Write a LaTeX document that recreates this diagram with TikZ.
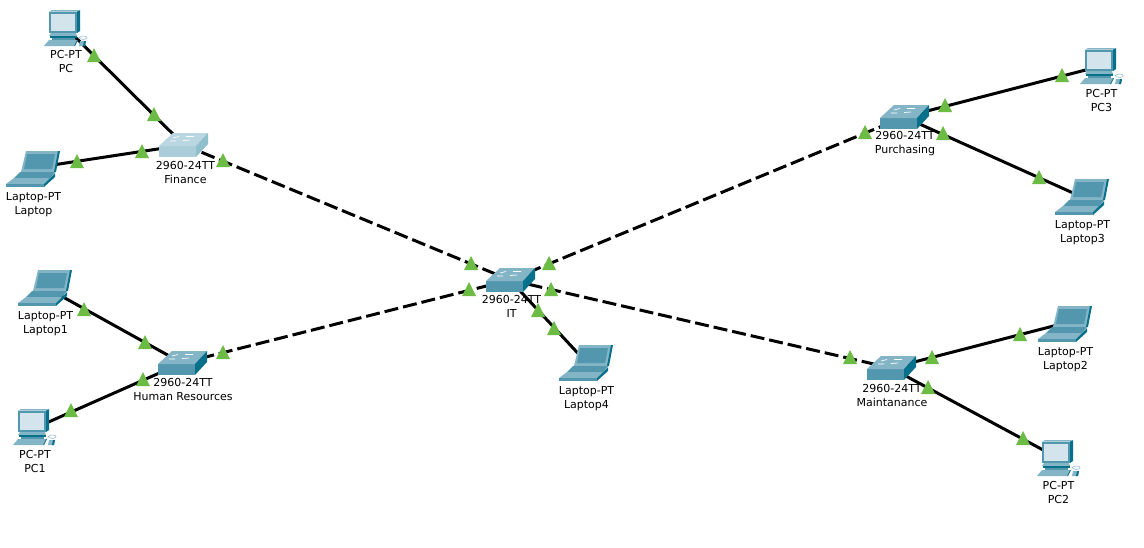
\documentclass[tikz,border=0pt]{standalone}
\usepackage{fontspec}
\setmainfont{DejaVu Sans}
\definecolor{tri}{HTML}{6CBB45}
\definecolor{midc}{HTML}{5397AF}
\definecolor{lightc}{HTML}{84B5C6}
\definecolor{darkc}{HTML}{07708A}
\definecolor{scr}{HTML}{D3E4EC}
\definecolor{paleF}{HTML}{ABCDD9}
\definecolor{paleT}{HTML}{BAD6E0}
\definecolor{paleS}{HTML}{8FBFCC}
\tikzset{
  x=1pt,y=-1pt,
  dev/.style={coordinate},
  link/.style={line width=3pt,black},
  dlink/.style={link,dash pattern=on 14pt off 5pt},
  lbl/.style={align=center,inner sep=0pt,font=\fontsize{11}{14}\selectfont,text=black},
  pics/porticon/.style={code={\fill[tri] (-7,7)--(7,7)--(0,-7)--cycle;}},
  pics/switchicon/.style n args={3}{code={
    \fill[#1] (0,13)--(37,13)--(37,24)--(0,24)--cycle;
    \fill[#2] (0,13)--(14,0)--(49,0)--(37,13)--cycle;
    \fill[#3] (37,13)--(49,0)--(49,11)--(37,24)--cycle;
    \draw[white,line width=.7pt] (14,5)--(20,3.5) (27,3.5)--(35,3.5) (11,8)--(17,8) (24,7.5)--(31,7);
  }},
  pics/pcicon/.style={code={
    \fill[midc] (5,1.5)--(33,1.5)--(33,23)--(5,23)--cycle;
    \fill[darkc] (33,1.5)--(36,0)--(36,21)--(33,23)--cycle;
    \fill[lightc] (5,1.5)--(8,0)--(36,0)--(33,1.5)--cycle;
    \fill[scr] (7,4)--(31,4)--(31,21)--(7,21)--cycle;
    \fill[lightc] (7,23)--(32,23)--(33,26)--(5,26)--cycle;
    \fill[darkc] (6,26)--(33,26)--(33,28)--(6,28)--cycle;
    \fill[midc] (8,28)--(31,28)--(31,30)--(8,30)--cycle;
    \fill[lightc] (5,30)--(33,30)--(30,36)--(0,36)--cycle;
    \fill[darkc] (33,30)--(34,30)--(31,36)--(30,36)--cycle;
    \draw[lightc,line width=.5pt] (35,27.5) ..controls (38,25) and (44,26) .. (43,28)..controls (42,30) and (37,30) .. (35,27.5);
    \fill[lightc] (36,31)--(42,31)--(41,36)--(35,36)--cycle;
    \fill[darkc] (40,31)--(42,31)--(41,36)--(39,36)--cycle;
  }},
  pics/laptopicon/.style={code={
    \fill[lightc] (20,1)--(53,1)--(49,22)--(15,22)--cycle;
    \fill[darkc] (52,1)--(54,1)--(50,22)--(48,22)--cycle;
    \fill[midc] (21,4)--(49,4)--(46,19)--(18,19)--cycle;
    \fill[midc] (14,22)--(49,22)--(44,28)--(8,28)--cycle;
    \fill[lightc] (8,28)--(44,28)--(38,34)--(0,34)--cycle;
    \fill[darkc] (44,28)--(49,23)--(49,27)--(38,37)--(38,34)--cycle;
    \fill[midc] (0,34)--(38,34)--(38,37)--(0,37)--cycle;
  }}
}
\begin{document}
\begin{tikzpicture}
\useasboundingbox (0,0) rectangle (1144,547);
\fill[white] (0,0) rectangle (1144,547);
% device anchors
\node[dev] (pc) at (62,24) {};
\node[dev] (lap) at (33,168) {};
\node[dev] (fin) at (184,145) {};
\node[dev] (lap1) at (45,287) {};
\node[dev] (pc1) at (35,428) {};
\node[dev] (hr) at (182,363) {};
\node[dev] (it) at (510,280) {};
\node[dev] (lap4) at (586,362) {};
\node[dev] (pur) at (904,117) {};
\node[dev] (pc3) at (1101,66) {};
\node[dev] (lap3) at (1082,197) {};
\node[dev] (mnt) at (891,368) {};
\node[dev] (lap2) at (1065,323) {};
\node[dev] (pc2) at (1058,458) {};
% connectors
\draw[link] (pc)--(fin);
\draw[link] (lap)--(fin);
\draw[link] (lap1)--(hr);
\draw[link] (pc1)--(hr);
\draw[link] (it)--(lap4);
\draw[link] (pur)--(pc3);
\draw[link] (pur)--(lap3);
\draw[link] (mnt)--(lap2);
\draw[link] (mnt)--(pc2);
\draw[dlink] (fin)--(it);
\draw[dlink] (hr)--(it);
\draw[dlink] (it)--(pur);
\draw[dlink] (it)--(mnt);
% icons
\pic at (44,10) {pcicon};
\pic at (1080,48) {pcicon};
\pic at (13,409) {pcicon};
\pic at (1037,440) {pcicon};
\pic at (6,150) {laptopicon};
\pic at (18,269) {laptopicon};
\pic at (1038,305) {laptopicon};
\pic at (1055,178) {laptopicon};
\pic at (559,344) {laptopicon};
\pic at (159,133) {switchicon={paleF}{paleT}{paleS}};
\pic at (486,268) {switchicon={midc}{lightc}{darkc}};
\pic at (158,351) {switchicon={midc}{lightc}{darkc}};
\pic at (880,105) {switchicon={midc}{lightc}{darkc}};
\pic at (867,356) {switchicon={midc}{lightc}{darkc}};
% labels
\node[lbl] (lpc) at (66,61.5) {PC-PT\\PC};
\node[lbl] (llap) at (33.5,205) {Laptop-PT\\Laptop};
\node[lbl] (lfin) at (185.5,172) {2960-24TT\\Finance};
\node[lbl] (llap1) at (45.5,324) {Laptop-PT\\Laptop1};
\node[lbl] (lpc1) at (35,461) {PC-PT\\PC1};
\node[lbl] (lhr) at (183,389) {2960-24TT\\Human Resources};
\node[lbl] (lit) at (511.5,306) {2960-24TT\\IT};
\node[lbl] (llap4) at (586.5,398.5) {Laptop-PT\\Laptop4};
\node[lbl] (lpur) at (905,144) {2960-24TT\\Purchasing};
\node[lbl] (lpc3) at (1101.5,100) {PC-PT\\PC3};
\node[lbl] (llap3) at (1082.5,232.5) {Laptop-PT\\Laptop3};
\node[lbl] (lmnt) at (892,395) {2960-24TT\\Maintanance};
\node[lbl] (llap2) at (1065.5,359.5) {Laptop-PT\\Laptop2};
\node[lbl] (lpc2) at (1058.5,492) {PC-PT\\PC2};
% link lights
\foreach \x/\y in {94/55,154/114,77/161,142/151,223/160,471/263,469/289,549/263,551/289,538/310,554/328,145/342,84/309,143/379,71/410,223/352,865/132,945/105,943/133,1062/75,1039/177,850/357,932/357,928/387,1020/334,1023/438}
  \pic at (\x,\y) {porticon};
\end{tikzpicture}
\end{document}
